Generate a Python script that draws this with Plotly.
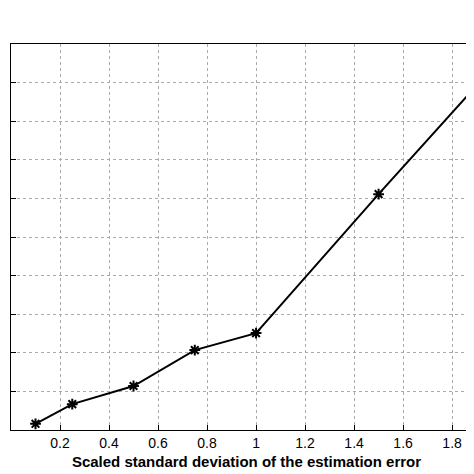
import plotly.graph_objects as go

# scaled std of the estimation error vs. (unlabelled) metric
x_vals = [0.1, 0.25, 0.5, 0.75, 1.0, 1.5, 2.0]
y_vals = [0.16, 0.67, 1.14, 2.07, 2.51, 6.11, 9.63]
x_ticks = [0, 0.2, 0.4, 0.6, 0.8, 1, 1.2, 1.4, 1.6, 1.8]

fig = go.Figure()
fig.add_trace(go.Scatter(
    x=x_vals, y=y_vals, mode='lines+markers',
    line=dict(color='black', width=2),
    marker=dict(symbol='asterisk-open', size=9, color='black',
                line=dict(color='black', width=2)),
))

axis_common = dict(
    showline=True, linecolor='black', linewidth=1, mirror=True,
    showgrid=True, gridcolor='#aaa', griddash='dot', gridwidth=1,
    ticks='inside', ticklen=5, tickcolor='black', zeroline=False,
    automargin=False,
)
fig.update_xaxes(range=[0, 1.922], tickvals=x_ticks,
                 ticktext=['0', '0.2', '0.4', '0.6', '0.8', '1', '1.2', '1.4', '1.6', '1.8'],
                 tickfont=dict(family='Liberation Sans', size=14, color='black'),
                 title=dict(text='<b>Scaled standard deviation of the estimation error</b>',
                            font=dict(family='Liberation Sans', size=15, color='black'),
                            standoff=6),
                 **axis_common)
fig.update_yaxes(range=[0, 10], dtick=1, showticklabels=False, **axis_common)

fig.update_layout(
    width=474, height=474, showlegend=False,
    margin=dict(l=3, r=0, t=36, b=52),
    plot_bgcolor='white', paper_bgcolor='white',
)
fig.write_html("out.html")
